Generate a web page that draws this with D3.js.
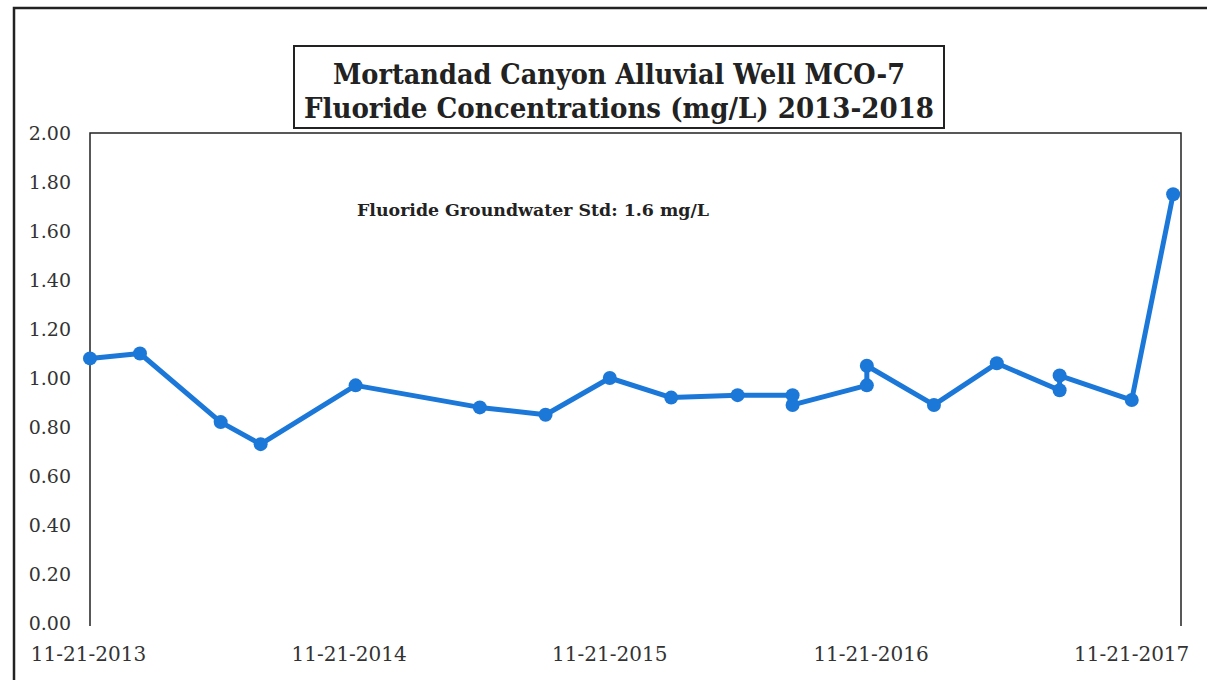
<!DOCTYPE html>
<html>
<head>
<meta charset="utf-8">
<script src="https://cdn.jsdelivr.net/npm/d3@7"></script>
<style>
  body { margin: 0; background: #fff; }
  svg { display: block; }
</style>
</head>
<body>
<svg width="1207" height="680"></svg>
<script>
// sample dates and fluoride values (mg/L)
var sampleDates = [
  "2013-11-21", "2014-01-30", "2014-05-23", "2014-07-18", "2014-11-28",
  "2015-05-21", "2015-08-21", "2015-11-19", "2016-02-13", "2016-05-16",
  "2016-08-01", "2016-08-01", "2016-11-13", "2016-11-13", "2017-02-15",
  "2017-05-14", "2017-08-10", "2017-08-10", "2017-11-19", "2018-01-16"
];
var fluoride = [
  1.08, 1.10, 0.82, 0.73, 0.97,
  0.88, 0.85, 1.00, 0.92, 0.93,
  0.93, 0.89, 0.97, 1.05, 0.89,
  1.06, 0.95, 1.01, 0.91, 1.75
];
var xTickDates = ["2013-11-21", "2014-11-21", "2015-11-21", "2016-11-21", "2017-11-21"];
var yTicks = [0, 0.2, 0.4, 0.6, 0.8, 1.0, 1.2, 1.4, 1.6, 1.8, 2.0];
var titleLines = ["Mortandad Canyon Alluvial Well MCO-7", "Fluoride Concentrations (mg/L) 2013-2018"];
var stdLabel = "Fluoride Groundwater Std: 1.6 mg/L";

var parse = d3.timeParse("%Y-%m-%d");
var fmt = d3.timeFormat("%m-%d-%Y");

var svg = d3.select("svg");
var plotL = 90, plotR = 1181, plotT = 133, plotB = 623;
var blue = "#1b78d8";
var serif = "'DejaVu Serif', serif";

var x = d3.scaleTime()
    .domain([parse("2013-11-21"), parse("2018-01-27")])
    .range([plotL, plotR]);
var y = d3.scaleLinear()
    .domain([0, 2])
    .range([plotB, plotT]);

// outer frame
svg.append("path")
    .attr("d", "M14,680V8H1207")
    .attr("fill", "none")
    .attr("stroke", "#222")
    .attr("stroke-width", 2.5);

// plot box (no bottom edge)
svg.append("path")
    .attr("d", "M" + plotL + "," + (plotB + 3) + "V" + plotT + "H" + plotR + "V" + (plotB + 3))
    .attr("fill", "none")
    .attr("stroke", "#222")
    .attr("stroke-width", 1.5);

// y axis labels
var yAxis = svg.append("g")
    .attr("transform", "translate(" + (plotL - 19) + ",0)")
    .call(d3.axisLeft(y).tickValues(yTicks).tickFormat(d3.format(".2f")).tickSize(0).tickPadding(0));
yAxis.select(".domain").remove();
yAxis.selectAll("text")
    .attr("font-family", serif)
    .attr("font-size", 19)
    .attr("fill", "#333");

// x axis labels
var xAxis = svg.append("g")
    .attr("transform", "translate(-2," + (plotB + 24) + ")")
    .call(d3.axisBottom(x).tickValues(xTickDates.map(parse)).tickFormat(fmt).tickSize(0).tickPadding(0));
xAxis.select(".domain").remove();
xAxis.selectAll("text")
    .attr("font-family", serif)
    .attr("font-size", 20)
    .attr("fill", "#333");

// data
var data = sampleDates.map(function(d, i) { return {date: parse(d), value: fluoride[i]}; });

var line = d3.line()
    .x(function(d) { return x(d.date); })
    .y(function(d) { return y(d.value); });

svg.append("path")
    .datum(data)
    .attr("d", line)
    .attr("fill", "none")
    .attr("stroke", blue)
    .attr("stroke-width", 5)
    .attr("stroke-linejoin", "round");

svg.selectAll(".pt")
    .data(data)
    .enter().append("circle")
    .attr("class", "pt")
    .attr("cx", function(d) { return x(d.date); })
    .attr("cy", function(d) { return y(d.value); })
    .attr("r", 7)
    .attr("fill", blue);

// standard note
svg.append("text")
    .attr("x", 357)
    .attr("y", 216)
    .attr("font-family", serif)
    .attr("font-weight", "bold")
    .attr("font-size", 16)
    .attr("textLength", 352)
    .attr("lengthAdjust", "spacingAndGlyphs")
    .attr("fill", "#222")
    .text(stdLabel);

// title box
svg.append("rect")
    .attr("x", 294)
    .attr("y", 46)
    .attr("width", 650)
    .attr("height", 82)
    .attr("fill", "#fff")
    .attr("stroke", "#222")
    .attr("stroke-width", 2);

var titleWidths = [572, 630];
svg.selectAll(".title")
    .data(titleLines)
    .enter().append("text")
    .attr("class", "title")
    .attr("x", function(d, i) { return 619 - titleWidths[i] / 2; })
    .attr("y", function(d, i) { return 84 + i * 34; })
    .attr("font-family", serif)
    .attr("font-weight", "bold")
    .attr("font-size", 28)
    .attr("textLength", function(d, i) { return titleWidths[i]; })
    .attr("lengthAdjust", "spacingAndGlyphs")
    .attr("fill", "#222")
    .text(function(d) { return d; });
</script>
</body>
</html>
